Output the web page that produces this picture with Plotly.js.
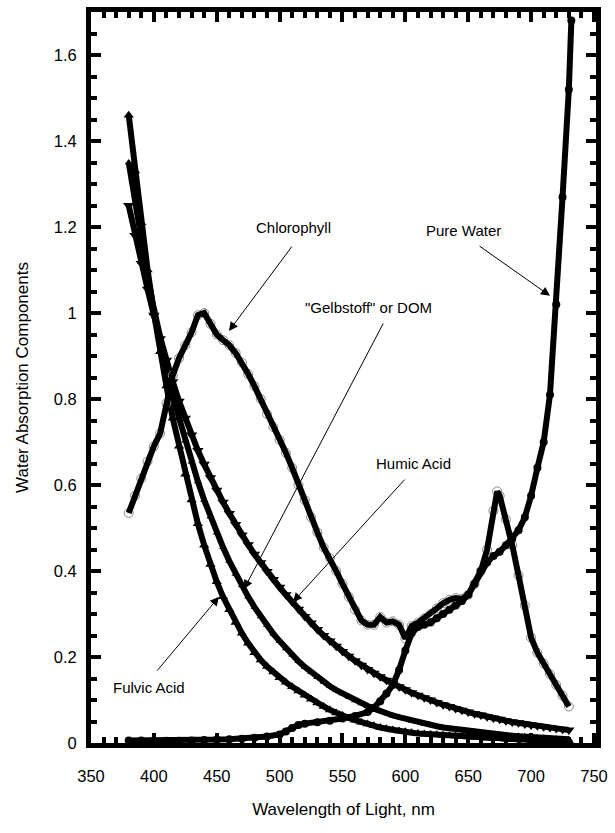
<!DOCTYPE html>
<html>
<head>
<meta charset="utf-8">
<script src="https://cdn.plot.ly/plotly-3.0.1.min.js"></script>
<style>html,body{margin:0;padding:0;background:#fff;}#chart{width:615px;height:833px;}</style>
</head>
<body>
<div id="chart"></div>
<script>
// Wavelengths (nm) for the three dissolved-organic curves
var wavelength = [380,385,390,395,400,405,410,415,420,425,430,435,440,445,450,455,460,465,470,475,480,485,490,495,500,505,510,515,520,525,530,535,540,545,550,555,560,565,570,575,580,585,590,595,600,605,610,615,620,625,630,635,640,645,650,655,660,665,670,675,680,685,690,695,700,705,710,715,720,725,730];

var humicAcid = [1.25,1.18,1.115,1.055,0.995,0.94,0.89,0.84,0.795,0.755,0.716,0.68,0.648,0.617,0.588,0.56,0.534,0.508,0.484,0.461,0.439,0.419,0.399,0.38,0.362,0.345,0.328,0.311,0.294,0.279,0.264,0.25,0.237,0.225,0.213,0.202,0.191,0.181,0.171,0.162,0.154,0.146,0.138,0.131,0.124,0.117,0.111,0.105,0.1,0.094,0.089,0.085,0.08,0.076,0.072,0.068,0.065,0.061,0.058,0.055,0.052,0.049,0.047,0.044,0.042,0.04,0.038,0.036,0.034,0.032,0.03];

var gelbstoffDOM = [1.35,1.255,1.168,1.086,1.01,0.939,0.874,0.812,0.756,0.703,0.654,0.608,0.565,0.526,0.489,0.455,0.423,0.393,0.366,0.34,0.316,0.294,0.274,0.254,0.237,0.22,0.205,0.19,0.177,0.165,0.153,0.142,0.132,0.123,0.115,0.107,0.099,0.092,0.086,0.08,0.074,0.069,0.064,0.06,0.056,0.052,0.048,0.045,0.042,0.039,0.036,0.034,0.032,0.03,0.028,0.026,0.024,0.022,0.021,0.019,0.018,0.017,0.016,0.015,0.014,0.013,0.012,0.011,0.01,0.009,0.009];

var fulvicAcid = [1.46,1.33,1.21,1.1,1.0,0.91,0.83,0.755,0.69,0.625,0.565,0.51,0.46,0.415,0.375,0.34,0.31,0.28,0.255,0.232,0.21,0.193,0.178,0.165,0.152,0.141,0.131,0.121,0.111,0.102,0.093,0.085,0.077,0.07,0.064,0.058,0.053,0.048,0.044,0.04,0.036,0.033,0.03,0.028,0.026,0.024,0.022,0.021,0.02,0.019,0.018,0.017,0.016,0.015,0.014,0.013,0.012,0.011,0.01,0.01,0.009,0.009,0.008,0.008,0.007,0.007,0.006,0.006,0.005,0.005,0.005];

// Chlorophyll
var chlWavelength = [380,385,390,395,400,405,410,415,420,425,430,435,440,445,450,455,460,465,470,475,480,485,490,495,500,505,510,515,520,525,530,535,540,545,550,555,560,565,570,575,580,585,590,595,600,605,610,615,620,625,630,635,640,645,650,655,660,665,670,673,675,680,685,690,695,700,705,710,715,720,725,730];
var chlorophyll = [0.535,0.575,0.615,0.655,0.69,0.72,0.79,0.855,0.895,0.925,0.955,0.995,1.0,0.975,0.95,0.937,0.925,0.907,0.885,0.858,0.83,0.8,0.765,0.735,0.705,0.675,0.64,0.6,0.565,0.525,0.49,0.455,0.43,0.4,0.37,0.34,0.31,0.285,0.275,0.275,0.293,0.28,0.283,0.275,0.243,0.272,0.28,0.29,0.3,0.313,0.325,0.333,0.337,0.335,0.345,0.37,0.4,0.45,0.54,0.585,0.575,0.52,0.46,0.39,0.32,0.245,0.21,0.185,0.16,0.135,0.11,0.085];

// Pure water
var pwWavelength = [380,390,400,410,420,430,440,450,460,470,480,490,500,505,510,515,520,530,540,550,560,570,575,580,585,590,595,600,605,610,615,620,625,630,635,640,645,650,655,660,665,670,675,680,685,690,695,700,705,710,715,720,725,730,732];
var pureWater = [0.006,0.006,0.006,0.005,0.005,0.006,0.007,0.008,0.009,0.01,0.012,0.015,0.02,0.027,0.035,0.042,0.045,0.048,0.052,0.057,0.063,0.072,0.082,0.097,0.115,0.135,0.17,0.215,0.255,0.27,0.275,0.28,0.29,0.3,0.31,0.32,0.33,0.345,0.37,0.4,0.42,0.435,0.445,0.46,0.475,0.495,0.525,0.575,0.64,0.7,0.81,1.02,1.27,1.52,1.68];

// Labels
var xTitle = 'Wavelength of Light, nm';
var yTitle = 'Water Absorption Components';
var labelTexts = ['Chlorophyll', 'Pure Water', '"Gelbstoff" or DOM', 'Humic Acid', 'Fulvic Acid'];
var labelX = [511.4, 646.6, 570.3, 606.1, 396.1];
var labelY = [1.198, 1.193, 1.012, 0.649, 0.128];
var arrowTailX = [510.6, 657.8, 583.0, 600.5, 401.7];
var arrowTailY = [1.158, 1.158, 0.979, 0.616, 0.165];
var arrowTipX = [459.7, 715.0, 471.7, 510.6, 451.8];
var arrowTipY = [0.958, 1.040, 0.358, 0.328, 0.340];

var traces = [
  {x: wavelength, y: humicAcid, name: 'Humic Acid', mode: 'lines+markers',
   line: {color: 'black', width: 6}, marker: {symbol: 'triangle-down', size: 10, color: 'black'}},
  {x: wavelength, y: gelbstoffDOM, name: 'Gelbstoff or DOM', mode: 'lines+markers',
   line: {color: 'black', width: 6}, marker: {symbol: 'triangle-up', size: 7, color: 'black'}},
  {x: wavelength, y: fulvicAcid, name: 'Fulvic Acid', mode: 'lines+markers',
   line: {color: 'black', width: 6}, marker: {symbol: 'triangle-up', size: 9, color: 'black'}},
  {x: chlWavelength, y: chlorophyll, name: 'Chlorophyll markers', mode: 'markers',
   marker: {symbol: 'circle-open', size: 9, color: '#8a8a8a', line: {width: 1, color: '#8a8a8a'}}},
  {x: chlWavelength, y: chlorophyll, name: 'Chlorophyll', mode: 'lines',
   line: {color: 'black', width: 6}},
  {x: pwWavelength, y: pureWater, name: 'Pure Water', mode: 'lines+markers',
   line: {color: 'black', width: 6}, marker: {symbol: 'circle', size: 8, color: 'black'}}
];

var annotations = [];
for (var i = 0; i < labelTexts.length; i++) {
  annotations.push({x: labelX[i], y: labelY[i], xref: 'x', yref: 'y', text: labelTexts[i],
    showarrow: false, font: {size: 15, color: 'black'}});
  annotations.push({x: arrowTipX[i], y: arrowTipY[i], xref: 'x', yref: 'y',
    ax: arrowTailX[i], ay: arrowTailY[i], axref: 'x', ayref: 'y', text: '',
    showarrow: true, arrowhead: 2, arrowsize: 1.8, arrowwidth: 1, arrowcolor: 'black'});
}

var axisCommon = {
  ticks: 'inside', ticklen: 10, tickwidth: 4, tickcolor: 'black',
  showline: true, linewidth: 5, linecolor: 'black', mirror: 'ticks',
  showgrid: false, zeroline: false,
  tickfont: {size: 16.5, color: 'black'}
};

var layout = {
  width: 615, height: 833,
  margin: {l: 91, r: 19, t: 12, b: 90},
  paper_bgcolor: 'white', plot_bgcolor: 'white',
  showlegend: false, hovermode: false,
  font: {family: 'Liberation Sans, Arial, sans-serif', color: 'black', size: 15},
  xaxis: Object.assign({}, axisCommon, {
    range: [350, 751.6], tick0: 350, dtick: 50,
    minor: {dtick: 10, ticks: 'inside', ticklen: 6, tickwidth: 4, tickcolor: 'black', showgrid: false},
    ticklabelstandoff: 14,
    title: {text: xTitle, font: {size: 17, color: 'black'}, standoff: 21}
  }),
  yaxis: Object.assign({}, axisCommon, {
    range: [0, 1.7], tick0: 0, dtick: 0.2,
    minor: {dtick: 0.05, ticks: 'inside', ticklen: 6, tickwidth: 4, tickcolor: 'black', showgrid: false},
    ticklabelstandoff: 6,
    title: {text: yTitle, font: {size: 17, color: 'black'}, standoff: 22}
  }),
  annotations: annotations
};

Plotly.newPlot('chart', traces, layout, {displayModeBar: false, staticPlot: true});
</script>
</body>
</html>
